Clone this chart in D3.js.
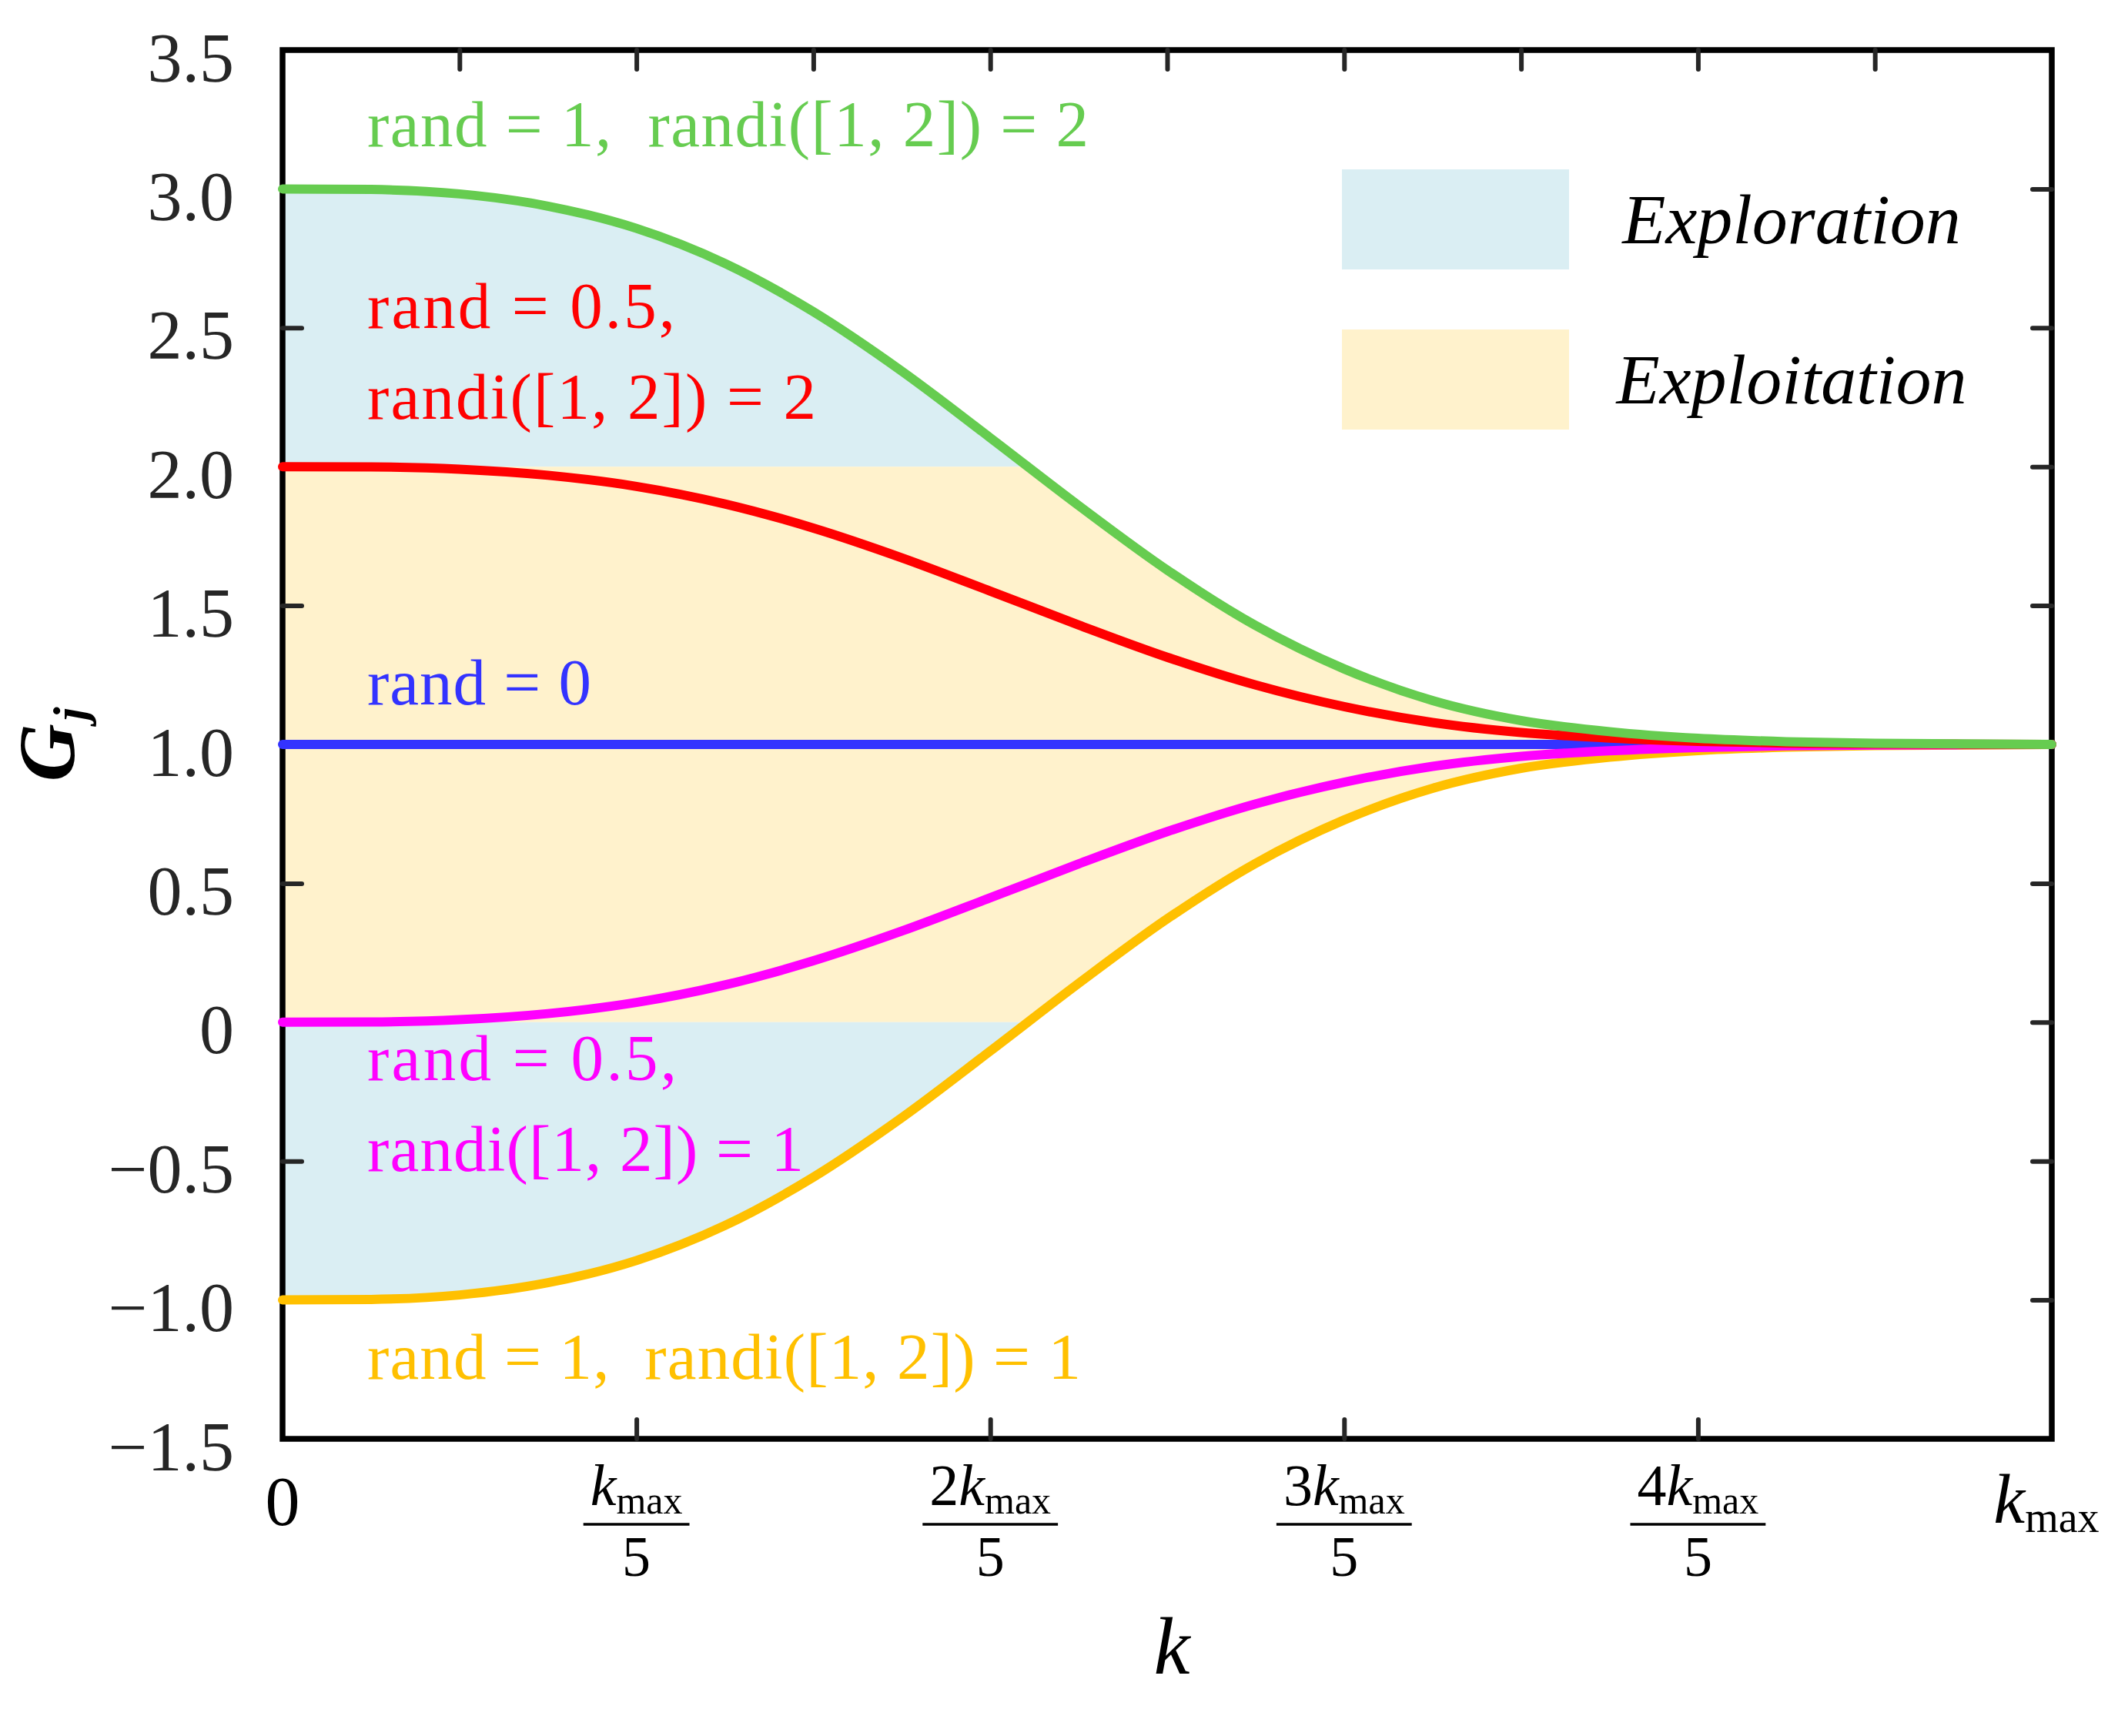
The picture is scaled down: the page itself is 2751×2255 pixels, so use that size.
<!DOCTYPE html>
<html>
<head>
<meta charset="utf-8">
<script src="https://cdn.jsdelivr.net/npm/d3@7"></script>
<style>
  body { margin: 0; background: #fff; }
  text { font-family: "Liberation Serif", "Times New Roman", serif; }
</style>
</head>
<body>
<svg width="2751" height="2255"></svg>
<script>
// k as a fraction of k_max
const kFrac = [0, 0.05, 0.1, 0.15, 0.2, 0.25, 0.3, 0.35, 0.4, 0.45, 0.5,
               0.55, 0.6, 0.65, 0.7, 0.75, 0.8, 0.85, 0.9, 0.95, 1];

// G_j, one array per case
const greenG   = [3.000, 2.998, 2.982, 2.938, 2.858, 2.732, 2.558, 2.344, 2.104, 1.860, 1.628,
                  1.428, 1.272, 1.158, 1.086, 1.046, 1.022, 1.010, 1.004, 1.002, 1.000];
const redG     = [2.000, 1.999, 1.991, 1.969, 1.929, 1.866, 1.779, 1.672, 1.552, 1.430, 1.314,
                  1.214, 1.136, 1.079, 1.043, 1.023, 1.011, 1.005, 1.002, 1.001, 1.000];
const blueG    = [1, 1, 1, 1, 1, 1, 1, 1, 1, 1, 1, 1, 1, 1, 1, 1, 1, 1, 1, 1, 1];
const magentaG = [0.000, 0.001, 0.009, 0.031, 0.071, 0.134, 0.221, 0.328, 0.448, 0.570, 0.686,
                  0.786, 0.864, 0.921, 0.957, 0.977, 0.989, 0.995, 0.998, 0.999, 1.000];
const orangeG  = [-1.000, -0.998, -0.982, -0.938, -0.858, -0.732, -0.558, -0.344, -0.104, 0.140, 0.372,
                  0.572, 0.728, 0.842, 0.914, 0.954, 0.978, 0.990, 0.996, 0.998, 1.000];

// axis ticks
const yTicks = [3.5, 3, 2.5, 2, 1.5, 1, 0.5, 0, -0.5, -1, -1.5];
const yTickLabels = ["3.5", "3.0", "2.5", "2.0", "1.5", "1.0", "0.5", "0", "\u22120.5", "\u22121.0", "\u22121.5"];
const xTicks = [0, 0.2, 0.4, 0.6, 0.8, 1];
const xTopTicks = [0.1, 0.2, 0.3, 0.4, 0.5, 0.6, 0.7, 0.8, 0.9];
const xTickCoef = ["0", "", "2", "3", "4", "k"];   // "0" plain, "k" = k_max, others = coef*k_max/5

// annotation texts and legend
const caseLabels = [
  { lines: ["rand = 1,  randi([1, 2]) = 2"], color: "#66cc50" },
  { lines: ["rand = 0.5,", "randi([1, 2]) = 2"], color: "#ff0000" },
  { lines: ["rand = 0"], color: "#3333ff" },
  { lines: ["rand = 0.5,", "randi([1, 2]) = 1"], color: "#ff00ff" },
  { lines: ["rand = 1,  randi([1, 2]) = 1"], color: "#ffc000" }
];
const legendNames = ["Exploration", "Exploitation"];

const exploreColor = "#daeef3", exploitColor = "#fff2cc";

const svg = d3.select("svg");
const plotLeft = 367, plotRight = 2665, plotTop = 65, plotBottom = 1869;

const x = d3.scaleLinear().domain([0, 1]).range([plotLeft, plotRight]);
const y = d3.scaleLinear().domain([-1.5, 3.5]).range([plotBottom, plotTop]);

const rows = kFrac.map((k, i) => ({
  k, green: greenG[i], red: redG[i], blue: blueG[i], magenta: magentaG[i], orange: orangeG[i]
}));

// shaded bands: area between the outer curves, clipped into three strips
const defs = svg.append("defs");
const strips = [
  { id: "clipTop", v0: 2, v1: 3.5, fill: exploreColor },
  { id: "clipMid", v0: 0, v1: 2, fill: exploitColor },
  { id: "clipBot", v0: -1.5, v1: 0, fill: exploreColor }
];
strips.forEach(s => {
  defs.append("clipPath").attr("id", s.id)
    .append("rect")
    .attr("x", x(0)).attr("width", x(1) - x(0))
    .attr("y", y(s.v1)).attr("height", y(s.v0) - y(s.v1));
});

const band = d3.area()
  .x(d => x(d.k))
  .y0(d => y(d.orange))
  .y1(d => y(d.green))
  .curve(d3.curveMonotoneX);

strips.forEach(s => {
  svg.append("path")
    .datum(rows)
    .attr("clip-path", `url(#${s.id})`)
    .attr("fill", s.fill)
    .attr("d", band);
});

// legend
legendNames.forEach((name, i) => {
  const top0 = [220, 428][i];
  svg.append("rect")
    .attr("x", 1743).attr("y", top0)
    .attr("width", 295).attr("height", 130)
    .attr("fill", i === 0 ? exploreColor : exploitColor);
  svg.append("text")
    .attr("x", 2327).attr("y", top0 + 96)
    .attr("text-anchor", "middle")
    .style("font-size", "92px").style("font-style", "italic")
    .attr("fill", "#000")
    .text(name);
});

// frame
svg.append("rect")
  .attr("x", plotLeft).attr("y", plotTop)
  .attr("width", plotRight - plotLeft).attr("height", plotBottom - plotTop)
  .attr("fill", "none").attr("stroke", "#000").attr("stroke-width", 7.5);

// ticks (inward)
function styleTicks(g) {
  g.select(".domain").remove();
  g.selectAll(".tick line")
    .attr("stroke", "#262626").attr("stroke-width", 6).attr("stroke-linecap", "round");
}

const yAxisLeft = svg.append("g").attr("transform", `translate(${plotLeft},0)`)
  .call(d3.axisLeft(y).tickValues(yTicks).tickSize(-25).tickPadding(63)
    .tickFormat((d, i) => yTickLabels[i]));
styleTicks(yAxisLeft);
yAxisLeft.attr("font-family", null).attr("font-size", null);
yAxisLeft.selectAll(".tick text")
  .attr("dy", 40).attr("fill", "#262626")
  .style("font-size", "90px");
yAxisLeft.selectAll(".tick").filter(d => d === 3.5 || d === -1.5).select("line").remove();

const yAxisRight = svg.append("g").attr("transform", `translate(${plotRight},0)`)
  .call(d3.axisRight(y).tickValues(yTicks.filter(d => d > -1.5 && d < 3.5)).tickSize(-25).tickFormat(""));
styleTicks(yAxisRight);

const xAxisBottom = svg.append("g").attr("transform", `translate(0,${plotBottom})`)
  .call(d3.axisBottom(x).tickValues(xTicks.slice(1, -1)).tickSize(-25).tickFormat(""));
styleTicks(xAxisBottom);

const xAxisTop = svg.append("g").attr("transform", `translate(0,${plotTop})`)
  .call(d3.axisTop(x).tickValues(xTopTicks).tickSize(-25).tickFormat(""));
styleTicks(xAxisTop);

// x tick labels: 0, k_max/5 ... k_max
xTicks.forEach((t, i) => {
  const cx = x(t), coef = xTickCoef[i];
  if (coef === "0") {
    svg.append("text").attr("x", cx).attr("y", 1981)
      .attr("text-anchor", "middle").attr("fill", "#000")
      .style("font-size", "90px").text("0");
    return;
  }
  if (coef === "k") {
    const t1 = svg.append("text").attr("x", cx - 7).attr("y", 1978)
      .attr("text-anchor", "middle").attr("fill", "#000").style("font-size", "92px");
    t1.append("tspan").style("font-style", "italic").text("k");
    t1.append("tspan").attr("dy", 12).style("font-size", "56px").text("max");
    return;
  }
  const num = svg.append("text").attr("x", cx).attr("y", 1955)
    .attr("text-anchor", "middle").attr("fill", "#000").style("font-size", "76px");
  if (coef) num.append("tspan").text(coef);
  num.append("tspan").style("font-style", "italic").text("k");
  num.append("tspan").attr("dy", 11).style("font-size", "50px").text("max");
  const w = num.node().getComputedTextLength() + 18;
  svg.append("line")
    .attr("x1", cx - w / 2).attr("x2", cx + w / 2)
    .attr("y1", 1980).attr("y2", 1980)
    .attr("stroke", "#000").attr("stroke-width", 3.5);
  svg.append("text").attr("x", cx).attr("y", 2047)
    .attr("text-anchor", "middle").attr("fill", "#000")
    .style("font-size", "74px").text("5");
});

// axis titles
svg.append("text")
  .attr("x", 1522).attr("y", 2174)
  .attr("text-anchor", "middle").attr("fill", "#000")
  .style("font-size", "106px").style("font-style", "italic")
  .text("k");

const gTitle = svg.append("text")
  .attr("transform", `translate(96,${(plotTop + plotBottom) / 2}) rotate(-90)`)
  .attr("text-anchor", "middle").attr("fill", "#000")
  .style("font-size", "104px").style("font-weight", "bold").style("font-style", "italic");
gTitle.append("tspan").text("G");
gTitle.append("tspan").attr("dx", 4).attr("dy", 16).style("font-size", "62px").text("j");

// curves
const line = d3.line().x(d => d.x).y(d => d.y).curve(d3.curveMonotoneX);
const series = [
  { key: "blue", color: "#3333ff" },
  { key: "orange", color: "#ffc000" },
  { key: "magenta", color: "#ff00ff" },
  { key: "red", color: "#ff0000" },
  { key: "green", color: "#66cc50" }
];
series.forEach(s => {
  svg.append("path")
    .datum(rows.map(r => ({ x: x(r.k), y: y(r[s.key]) })))
    .attr("fill", "none")
    .attr("stroke", s.color)
    .attr("stroke-width", 12)
    .attr("stroke-linecap", "round")
    .attr("stroke-linejoin", "round")
    .attr("d", line);
});

// case annotations (baselines and measured widths)
const labelBase = [[190], [426, 544], [915], [1403, 1521], [1791]];
const labelWidth = [[937], [400, 583], [291], [402, 567], [927]];
caseLabels.forEach((c, i) => {
  c.lines.forEach((ln, j) => {
    svg.append("text")
      .attr("x", 477).attr("y", labelBase[i][j])
      .attr("fill", c.color)
      .style("font-size", "85px")
      .attr("textLength", labelWidth[i][j])
      .attr("lengthAdjust", "spacing")
      .style("white-space", "pre")
      .text(ln);
  });
});
</script>
</body>
</html>
